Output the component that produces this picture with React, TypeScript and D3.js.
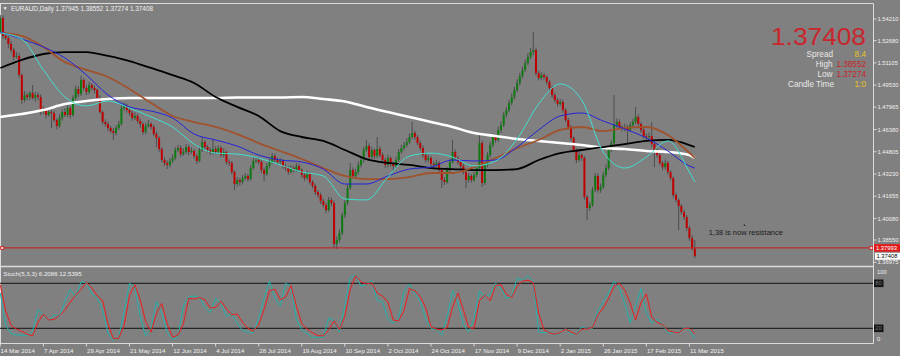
import React from "react";
import * as d3 from "d3";

// ---------- Candle data (EURAUD daily, in pips: 1.xxxx * 10000) ----------
const OPEN = [
  15329, 15428, 15301, 15286, 15244, 15201, 15152, 15159, 15024, 14847,
  14882, 14868, 14897, 14861, 14882, 14868, 14762, 14776, 14741, 14762,
  14755, 14705, 14663, 14720, 14762, 14741, 14790, 14741, 14861, 14925,
  14890, 14989, 14932, 14904, 14953, 14932, 14918, 14861, 14762, 14691,
  14677, 14649, 14627, 14613, 14649, 14677, 14790, 14805, 14776, 14755,
  14720, 14734, 14698, 14677, 14620, 14663, 14677, 14656, 14606, 14578,
  14500, 14422, 14401, 14387, 14415, 14436, 14493, 14507, 14464, 14479,
  14514, 14479, 14486, 14450, 14415, 14493, 14549, 14514, 14493, 14472,
  14500, 14479, 14507, 14457, 14479, 14408, 14401, 14337, 14252, 14280,
  14266, 14294, 14309, 14287, 14365, 14415, 14422, 14408, 14351, 14323,
  14379, 14408, 14450, 14422, 14408, 14415, 14379, 14365, 14337, 14365,
  14351, 14379, 14351, 14316, 14294, 14323, 14266, 14238, 14195, 14174,
  14131, 14103, 14068, 14139, 14117, 13827, 13855, 13905, 14032, 14117,
  14224, 14351, 14309, 14337, 14387, 14422, 14493, 14521, 14443, 14493,
  14450, 14500, 14457, 14422, 14387, 14436, 14394, 14379, 14422, 14479,
  14507, 14528, 14549, 14585, 14613, 14585, 14542, 14507, 14457, 14422,
  14436, 14394, 14387, 14401, 14351, 14280, 14266, 14351, 14408, 14479,
  14436, 14408, 14379, 14337, 14280, 14309, 14280, 14316, 14365, 14542,
  14259, 14387, 14457, 14528, 14585, 14564, 14635, 14670, 14741, 14776,
  14826, 14868, 14918, 14968, 15017, 15060, 15109, 15152, 15187, 15201,
  15038, 15003, 15024, 15010, 14975, 14932, 14882, 14847, 14819, 14833,
  14776, 14705, 14656, 14578, 14493, 14422, 14457, 14436, 14160, 14082,
  14103, 14209, 14309, 14209, 14231, 14316, 14365, 14493, 14542, 14670,
  14691, 14656, 14642, 14656, 14635, 14670, 14691, 14727, 14677, 14635,
  14592, 14585, 14592, 14535, 14493, 14457, 14401, 14372, 14401, 14337,
  14294, 14174, 14139, 14096, 14053, 14018, 13940, 13869, 13794.5,
];
const HIGH = [
  15449, 15446, 15326, 15298, 15264, 15216, 15187, 15181, 15036, 14912,
  14900, 14912, 14953, 14904, 14902, 14886, 14801, 14790, 14782, 14780,
  14770, 14720, 14745, 14780, 14790, 14812, 14805, 14880, 14950, 14945,
  15017, 15001, 14952, 14975, 14968, 14950, 14930, 14880, 14775, 14710,
  14695, 14663, 14650, 14668, 14700, 14815, 14830, 14822, 14795, 14770,
  14760, 14750, 14715, 14690, 14685, 14705, 14690, 14672, 14625, 14590,
  14515, 14440, 14420, 14435, 14460, 14515, 14530, 14525, 14505, 14535,
  14530, 14510, 14500, 14465, 14512, 14585, 14565, 14530, 14510, 14564,
  14520, 14525, 14522, 14505, 14490, 14425, 14415, 14350, 14300, 14295,
  14315, 14330, 14322, 14385, 14440, 14445, 14440, 14420, 14368, 14400,
  14430, 14472, 14468, 14440, 14435, 14428, 14395, 14380, 14385, 14382,
  14400, 14395, 14365, 14330, 14345, 14335, 14280, 14255, 14210, 14190,
  14148, 14120, 14160, 14155, 14135, 13880, 13930, 14050, 14140, 14250,
  14401, 14370, 14360, 14410, 14445, 14515, 14564, 14540, 14515, 14505,
  14585, 14520, 14475, 14440, 14460, 14450, 14410, 14445, 14500, 14530,
  14550, 14575, 14610, 14691, 14630, 14600, 14560, 14525, 14475, 14460,
  14450, 14415, 14425, 14415, 14365, 14300, 14370, 14430, 14564, 14495,
  14450, 14425, 14395, 14350, 14330, 14322, 14335, 14385, 14613, 14560,
  14405, 14480, 14550, 14610, 14605, 14660, 14695, 14762, 14800, 14850,
  14895, 14940, 14995, 15040, 15085, 15135, 15180, 15215, 15329, 15220,
  15055, 15045, 15040, 15025, 14990, 14945, 14900, 14862, 14855, 14850,
  14790, 14720, 14670, 14590, 14505, 14478, 14470, 14450, 14175, 14125,
  14230, 14330, 14325, 14255, 14340, 14390, 14515, 14565, 14882, 14715,
  14710, 14670, 14680, 14670, 14690, 14715, 14797, 14745, 14690, 14650,
  14610, 14615, 14690, 14550, 14510, 14470, 14415, 14425, 14415, 14350,
  14305, 14190, 14150, 14110, 14070, 14032, 13955, 13890, 13855.2,
];
const LOW = [
  15315, 15279, 15272, 15214, 15183, 15127, 15140, 15004, 14820, 14832,
  14844, 14846, 14849, 14834, 14845, 14740, 14748, 14716, 14729, 14649,
  14690, 14640, 14650, 14700, 14728, 14726, 14716, 14730, 14848, 14870,
  14876, 14915, 14882, 14890, 14914, 14896, 14845, 14748, 14672, 14658,
  14625, 14610, 14564, 14596, 14635, 14665, 14772, 14758, 14735, 14700,
  14705, 14680, 14650, 14600, 14605, 14650, 14638, 14590, 14514, 14480,
  14405, 14380, 14358, 14370, 14400, 14420, 14478, 14445, 14450, 14462,
  14455, 14465, 14432, 14395, 14405, 14480, 14495, 14475, 14455, 14460,
  14462, 14465, 14440, 14442, 14390, 14380, 14318, 14209, 14235, 14240,
  14250, 14280, 14268, 14275, 14352, 14400, 14390, 14330, 14273, 14310,
  14362, 14395, 14405, 14390, 14392, 14360, 14345, 14318, 14325, 14332,
  14338, 14335, 14295, 14275, 14280, 14248, 14220, 14175, 14155, 14110,
  14085, 14045, 14055, 14095, 13799, 13792, 13840, 13890, 14010, 14100,
  14210, 14290, 14295, 14320, 14370, 14405, 14480, 14425, 14430, 14430,
  14435, 14440, 14400, 14365, 14370, 14375, 14340, 14365, 14410, 14465,
  14490, 14512, 14535, 14570, 14565, 14525, 14490, 14440, 14405, 14405,
  14375, 14365, 14370, 14330, 14224, 14245, 14255, 14335, 14395, 14420,
  14390, 14360, 14320, 14224, 14262, 14262, 14268, 14300, 14350, 14231,
  14245, 14370, 14440, 14512, 14545, 14550, 14615, 14655, 14722, 14760,
  14810, 14850, 14900, 14950, 15000, 15045, 15095, 15135, 15165, 15020,
  14985, 14988, 14992, 14955, 14915, 14862, 14830, 14800, 14805, 14756,
  14688, 14638, 14560, 14475, 14400, 14410, 14415, 14140, 13997, 14060,
  14090, 14195, 14190, 14190, 14215, 14300, 14350, 14478, 14530, 14650,
  14640, 14625, 14625, 14542, 14620, 14655, 14675, 14660, 14615, 14575,
  14560, 14568, 14515, 14372, 14438, 14385, 14350, 14355, 14318, 14275,
  14155, 14120, 13926, 14035, 13997, 13920, 13850, 13780, 13727.4,
];
const CLOSE = [
  15428, 15301, 15286, 15244, 15201, 15152, 15159, 15024, 14847, 14882,
  14868, 14897, 14861, 14882, 14868, 14762, 14776, 14741, 14762, 14755,
  14705, 14663, 14720, 14762, 14741, 14790, 14741, 14861, 14925, 14890,
  14989, 14932, 14904, 14953, 14932, 14918, 14861, 14762, 14691, 14677,
  14649, 14627, 14613, 14649, 14677, 14790, 14805, 14776, 14755, 14720,
  14734, 14698, 14677, 14620, 14663, 14677, 14656, 14606, 14578, 14500,
  14422, 14401, 14387, 14415, 14436, 14493, 14507, 14464, 14479, 14514,
  14479, 14486, 14450, 14415, 14493, 14549, 14514, 14493, 14472, 14500,
  14479, 14507, 14457, 14479, 14408, 14401, 14337, 14252, 14280, 14266,
  14294, 14309, 14287, 14365, 14415, 14422, 14408, 14351, 14323, 14379,
  14408, 14450, 14422, 14408, 14415, 14379, 14365, 14337, 14365, 14351,
  14379, 14351, 14316, 14294, 14323, 14266, 14238, 14195, 14174, 14131,
  14103, 14068, 14139, 14117, 13827, 13855, 13905, 14032, 14117, 14224,
  14351, 14309, 14337, 14387, 14422, 14493, 14521, 14443, 14493, 14450,
  14500, 14457, 14422, 14387, 14436, 14394, 14379, 14422, 14479, 14507,
  14528, 14549, 14585, 14613, 14585, 14542, 14507, 14457, 14422, 14436,
  14394, 14387, 14401, 14351, 14280, 14266, 14351, 14408, 14479, 14436,
  14408, 14379, 14337, 14280, 14309, 14280, 14316, 14365, 14542, 14259,
  14387, 14457, 14528, 14585, 14564, 14635, 14670, 14741, 14776, 14826,
  14868, 14918, 14968, 15017, 15060, 15109, 15152, 15187, 15201, 15038,
  15003, 15024, 15010, 14975, 14932, 14882, 14847, 14819, 14833, 14776,
  14705, 14656, 14578, 14493, 14422, 14457, 14436, 14160, 14082, 14103,
  14209, 14309, 14209, 14231, 14316, 14365, 14493, 14542, 14670, 14691,
  14656, 14642, 14656, 14635, 14670, 14691, 14727, 14677, 14635, 14592,
  14585, 14592, 14535, 14493, 14457, 14401, 14372, 14401, 14337, 14294,
  14174, 14139, 14096, 14053, 14018, 13940, 13869, 13794.5, 13740.8,
];

// ---------- Moving averages (sampled at bar indices) ----------
const MA_BARS = [0, 8, 16, 24, 32, 40, 48, 56, 64, 72, 80, 88, 96, 104, 112, 120, 128, 136, 144, 152, 160, 168, 176, 184, 192, 200, 208, 216, 224, 232, 240, 248, 256, 258];
const MA_WHITE = [14727, 14748, 14776, 14819, 14840, 14854, 14861, 14861, 14861, 14861, 14861, 14865, 14865, 14865, 14868, 14854, 14837, 14798, 14762, 14727, 14691, 14656, 14613, 14592, 14571, 14557, 14542, 14528, 14507, 14500, 14486, 14479, 14457, 14436];
const MA_BLACK = [15074, 15131, 15173, 15187, 15187, 15159, 15123, 15074, 15024, 14968, 14868, 14798, 14734, 14627, 14585, 14557, 14493, 14429, 14401, 14387, 14365, 14358, 14351, 14351, 14358, 14422, 14471, 14493, 14514, 14535, 14557, 14564, 14528, 14514];
const MA_BROWN = [15322, 15301, 15223, 15116, 15060, 15010, 14925, 14826, 14734, 14691, 14656, 14606, 14542, 14486, 14429, 14365, 14309, 14287, 14287, 14301, 14330, 14330, 14372, 14436, 14507, 14564, 14635, 14656, 14627, 14649, 14656, 14599, 14472, 14436];
const MA_BLUE = [15329, 15279, 15223, 15145, 15024, 14883, 14798, 14769, 14720, 14606, 14564, 14521, 14457, 14422, 14408, 14358, 14252, 14252, 14309, 14358, 14372, 14422, 14415, 14422, 14514, 14635, 14734, 14755, 14698, 14642, 14578, 14486, 14379, 14365];
const MA_CYAN = [15322, 15279, 15060, 14868, 14805, 14840, 14790, 14727, 14656, 14535, 14471, 14464, 14436, 14387, 14337, 14309, 14146, 14139, 14302, 14450, 14471, 14443, 14380, 14415, 14571, 14819, 14961, 14847, 14478, 14365, 14443, 14557, 14337, 14266];

// ---------- Stochastic (5,3,3), every 2nd bar ----------
const STOCH_K = [
  67, 24, 13, 11, 11, 10, 16, 45, 38, 31,
  38, 36, 56, 72, 62, 82, 80, 66, 61, 45,
  14, 4, 8, 42, 80, 75, 35, 10, 20, 56,
  40, 15, 5, 9, 50, 62, 63, 61, 48, 41,
  60, 52, 36, 39, 27, 17, 15, 14, 33, 60,
  83, 60, 50, 80, 76, 32, 18, 13, 8, 8,
  8, 34, 30, 15, 50, 88, 91, 76, 78, 84,
  57, 55, 32, 27, 33, 70, 79, 67, 56, 33,
  20, 18, 11, 35, 70, 55, 25, 15, 32, 70,
  62, 65, 80, 73, 60, 62, 87, 84, 90, 83,
  15, 14, 15, 11, 13, 20, 12, 13, 22, 19,
  20, 44, 55, 67, 83, 73, 53, 27, 50, 73,
  40, 27, 32, 25, 14, 14, 15, 21, 18, 6.2086,
];
const STOCH_D = [
  78, 43, 24, 19, 16, 12, 10, 28, 39, 31,
  32, 37, 44, 55, 64, 72, 81, 74, 63, 57,
  26, 6, 7, 24, 64, 78, 58, 29, 15, 40,
  53, 26, 8, 11, 26, 60, 59, 61, 58, 47,
  48, 56, 46, 38, 39, 28, 20, 16, 25, 45,
  70, 72, 58, 62, 77, 50, 26, 19, 14, 10,
  10, 18, 30, 18, 36, 72, 90, 82, 79, 81,
  67, 63, 55, 31, 30, 44, 73, 70, 62, 48,
  22, 19, 18, 21, 48, 67, 45, 21, 20, 57,
  64, 57, 77, 78, 65, 61, 76, 83, 84, 81,
  40, 18, 14, 12, 14, 19, 15, 12, 19, 19,
  21, 38, 47, 60, 76, 80, 71, 54, 31, 54,
  66, 35, 28, 25, 17, 15, 14, 20, 20, 12.5395,
];

// ---------- Axis labels ----------
const PRICE_TICKS = ["1.54210", "1.52680", "1.51105", "1.49530", "1.47965", "1.46380", "1.44805", "1.43230", "1.41655", "1.40080", "1.38550", "1.36975"];
const TIME_TICK_BARS = [0, 16, 32, 48, 64, 80, 96, 112, 128, 144, 160, 176, 192, 208, 224, 240, 256];
const TIME_LABELS = ["14 Mar 2014", "7 Apr 2014", "29 Apr 2014", "21 May 2014", "12 Jun 2014", "4 Jul 2014", "28 Jul 2014", "19 Aug 2014", "10 Sep 2014", "2 Oct 2014", "24 Oct 2014", "17 Nov 2014", "9 Dec 2014", "2 Jan 2015", "26 Jan 2015", "17 Feb 2015", "11 Mar 2015"];
const STOCH_LEVELS = [80, 20];
const RESIST_LEVEL = 13799.3;
const LAST = { open: "1.37945", high: "1.38552", low: "1.37274", close: "1.37408", spread: "8.4", candleTime: "1:0" };

const FONT = "Liberation Sans, Arial, sans-serif";
const BG = "#808080";
const TXT = "#f0f0f0";
const FRAME = "#dcdcdc";

export default function App() {
  const x = d3.scaleLinear().domain([0, 258]).range([0.3, 694.8]);
  const y = d3.scaleLinear().domain([13697.5, 15421]).range([262.27, 19]);
  const ys = d3.scaleLinear().domain([0, 100]).range([343.3, 268.3]);
  const panelRight = 873.5;

  const maLine = d3
    .line<number>()
    .x((_, k) => x(MA_BARS[k]))
    .y((v) => y(v))
    .curve(d3.curveMonotoneX);
  const stochBars = d3.range(0, 259, 2);
  const stLine = d3
    .line<number>()
    .x((_, k) => x(stochBars[k]))
    .y((v) => ys(v));

  const MAS = [
    { d: MA_WHITE, c: "#ffffff", w: 2.6 },
    { d: MA_BLACK, c: "#000000", w: 1.8 },
    { d: MA_BROWN, c: "#a0522d", w: 1.8 },
    { d: MA_BLUE, c: "#2323d8", w: 1 },
    { d: MA_CYAN, c: "#40e0d0", w: 1 },
  ];

  const yRes = y(RESIST_LEVEL);
  const yLast = y(13740.8);

  return (
    <svg
      width={900}
      height={356}
      style={{ position: "fixed", left: 0, top: 0, display: "block" }}
      fontFamily={FONT}
    >
      <defs>
        <clipPath id="mainClip">
          <rect x={0} y={3.5} width={873} height={262.5} />
        </clipPath>
        <clipPath id="stClip">
          <rect x={0} y={267} width={873} height={76.5} />
        </clipPath>
      </defs>
      <rect x={0} y={0} width={900} height={356} fill={BG} />

      {/* frames */}
      <line x1={0} x2={panelRight} y1={3.5} y2={3.5} stroke={FRAME} />
      <line x1={0.5} x2={0.5} y1={3.5} y2={343.5} stroke={FRAME} />
      <line x1={panelRight} x2={panelRight} y1={3.5} y2={343.5} stroke={FRAME} />
      <line x1={0} x2={panelRight} y1={266.5} y2={266.5} stroke={FRAME} strokeWidth={1.5} />
      <line x1={0} x2={panelRight} y1={343.5} y2={343.5} stroke={FRAME} />

      {/* candles */}
      <g clipPath="url(#mainClip)">
        {CLOSE.map((c, i) => {
          const o = OPEN[i];
          const cx = x(i);
          const top = y(Math.max(o, c));
          const bot = y(Math.min(o, c));
          return (
            <g key={i}>
              <line x1={cx} x2={cx} y1={y(HIGH[i])} y2={y(LOW[i])} stroke="#4d4d4d" strokeWidth={1} />
              <rect x={cx - 1} y={top} width={2} height={Math.max(1, bot - top)} fill={c >= o ? "#0e7a12" : "#c00000"} />
            </g>
          );
        })}
        {MAS.map((m, k) => (
          <path key={k} d={maLine(m.d) || ""} fill="none" stroke={m.c} strokeWidth={m.w} />
        ))}
        {/* resistance line */}
        <line x1={0} x2={panelRight} y1={yRes} y2={yRes} stroke="#d01818" strokeWidth={1} />
        <rect x={0.8} y={yRes - 1.5} width={3} height={3} fill="#f4dcdc" stroke="#d01818" strokeWidth={0.8} />
        <rect x={869.8} y={yRes - 1.5} width={3} height={3} fill="#f4dcdc" stroke="#d01818" strokeWidth={0.8} />
      </g>

      {/* annotation */}
      <text x={708.7} y={234.6} fontSize={7.5} fill="#1c1c1c">1,38 is now resistance</text>
      <rect x={743.8} y={224.6} width={1.4} height={1.4} fill="#2a2a2a" />

      {/* title */}
      <path d="M3.3,7.3 L6.9,7.3 L5.1,10 Z" fill={TXT} />
      <text x={11} y={10.6} fontSize={6.3} fill={TXT} textLength={142} lengthAdjust="spacingAndGlyphs">
        {`EURAUD,Daily  ${LAST.open} ${LAST.high} ${LAST.low} ${LAST.close}`}
      </text>

      {/* info panel */}
      <text x={866} y={44.6} fontSize={24} fill="#c8262c" textAnchor="end" textLength={95} lengthAdjust="spacingAndGlyphs">
        {LAST.close}
      </text>
      <g fontSize={8.2}>
        <text x={833} y={57} fill="#e8e8e8" textAnchor="end">Spread</text>
        <text x={866} y={57} fill="#e8c41a" textAnchor="end">{LAST.spread}</text>
        <text x={832.5} y={66.8} fill="#e8e8e8" textAnchor="end">High</text>
        <text x={866} y={66.8} fill="#c8262c" textAnchor="end">{LAST.high}</text>
        <text x={832.5} y={76.8} fill="#e8e8e8" textAnchor="end">Low</text>
        <text x={866} y={76.8} fill="#c8262c" textAnchor="end">{LAST.low}</text>
        <text x={834} y={87} fill="#e8e8e8" textAnchor="end">Candle Time</text>
        <text x={866} y={87} fill="#e8c41a" textAnchor="end">{LAST.candleTime}</text>
      </g>

      {/* price axis */}
      <g fontSize={5.8} fill={TXT}>
        {PRICE_TICKS.map((t) => {
          const ty = y(parseFloat(t) * 10000);
          return (
            <g key={t}>
              <line x1={panelRight} x2={876.5} y1={ty} y2={ty} stroke={TXT} strokeWidth={0.8} />
              <text x={877.5} y={ty + 2.1}>{t}</text>
            </g>
          );
        })}
        <rect x={874} y={yRes - 3.8} width={26} height={7.6} fill="#e01c1c" />
        <text x={876} y={yRes + 2.1} fill="#ffffff">1.37993</text>
        <rect x={875} y={yLast - 3.4} width={25} height={7} fill="#ffffff" />
        <text x={876.5} y={yLast + 2.1} fill="#000000">{LAST.close}</text>
      </g>

      {/* stochastic */}
      <g clipPath="url(#stClip)">
        {STOCH_LEVELS.map((lv) => (
          <line key={lv} x1={0} x2={panelRight} y1={ys(lv)} y2={ys(lv)} stroke="#111111" strokeWidth={1} />
        ))}
        <path d={stLine(STOCH_K) || ""} fill="none" stroke="#20b2aa" strokeWidth={1} />
        <path d={stLine(STOCH_D) || ""} fill="none" stroke="#ee1c1c" strokeWidth={1} />
      </g>
      <text x={3.3} y={276} fontSize={6.2} fill={TXT}>
        {`Stoch(5,3,3) ${STOCH_K[STOCH_K.length - 1].toFixed(4)} ${STOCH_D[STOCH_D.length - 1].toFixed(4)}`}
      </text>
      <g fontSize={5.8}>
        <text x={877} y={274} fill={TXT}>100</text>
        <text x={877} y={341} fill={TXT}>0</text>
        {STOCH_LEVELS.map((lv) => (
          <g key={lv}>
            <rect x={874} y={ys(lv) - 3.8} width={9.5} height={7.6} fill="#151515" />
            <text x={875.2} y={ys(lv) + 2.1} fill="#7a7a7a">{lv}</text>
          </g>
        ))}
      </g>

      {/* time axis */}
      <g fontSize={6.1} fill={TXT}>
        {TIME_TICK_BARS.map((b, k) => (
          <g key={b}>
            <line x1={x(b)} x2={x(b)} y1={343.5} y2={346.5} stroke={TXT} strokeWidth={0.8} />
            <text x={k === 0 ? 0.6 : x(b) + 0.6} y={352.6}>{TIME_LABELS[k]}</text>
          </g>
        ))}
      </g>
    </svg>
  );
}
